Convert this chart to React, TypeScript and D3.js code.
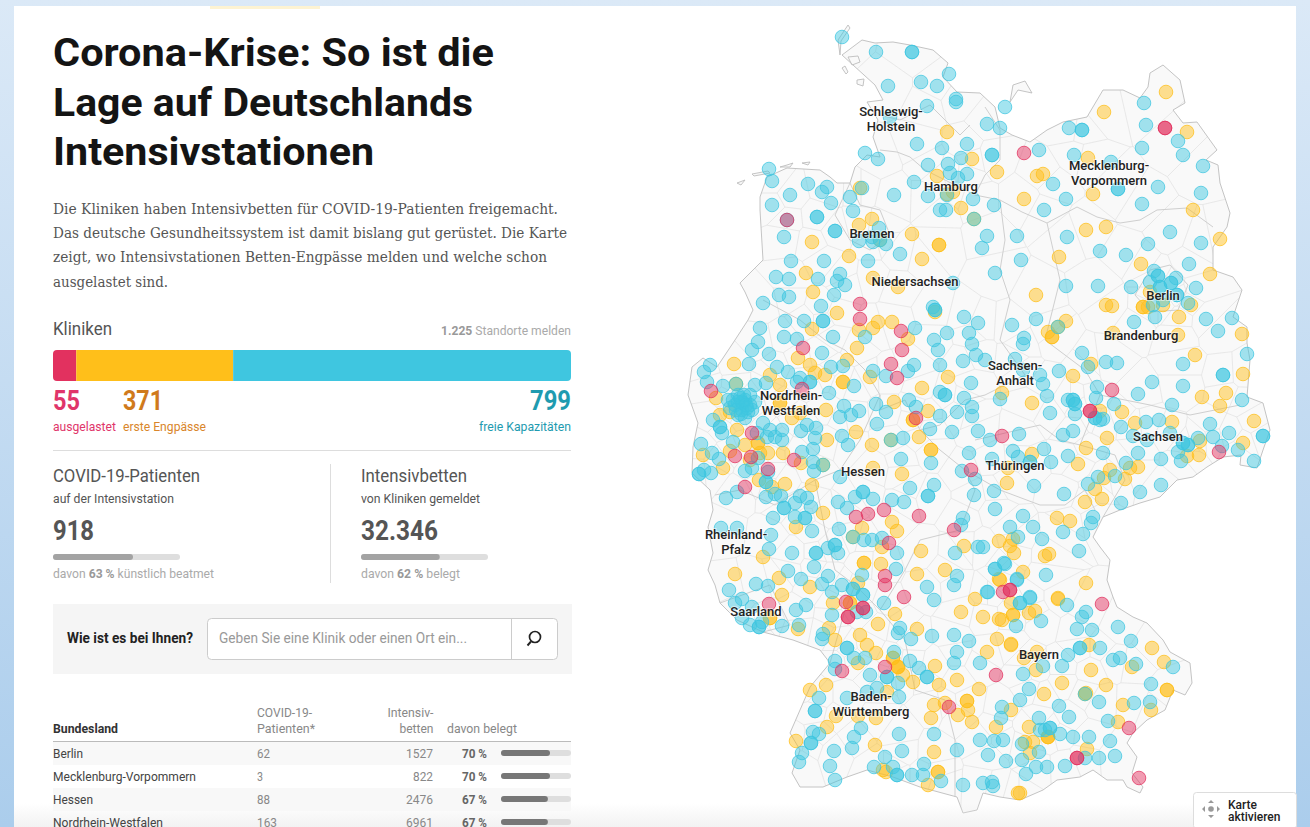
import React, { useEffect, useRef } from "react";
import * as d3 from "d3";

type Pt = [number, number];

// clinic status totals
const statusNames = ["ausgelastet", "erste Engpässe", "freie Kapazitäten"];
const statusCounts = [55, 371, 799];
const reportingTotal = 1225;

// table
const stateNames = ["Berlin", "Mecklenburg-Vorpommern", "Hessen", "Nordrhein-Westfalen"];
const statePatients = [62, 3, 88, 163];
const stateBeds = [1527, 822, 2476, 6961];
const stateOccupied = [70, 70, 67, 67];

// map labels
const mapLabels: [string[], number, number][] = [
  [["Schleswig-", "Holstein"], 891, 116],
  [["Hamburg"], 951, 191],
  [["Mecklenburg-", "Vorpommern"], 1109, 170],
  [["Bremen"], 872, 238],
  [["Niedersachsen"], 915, 286],
  [["Berlin"], 1163, 300],
  [["Brandenburg"], 1141, 340],
  [["Sachsen-", "Anhalt"], 1015, 370],
  [["Nordrhein-", "Westfalen"], 791, 400],
  [["Sachsen"], 1158, 441],
  [["Thüringen"], 1015, 470],
  [["Hessen"], 863, 476],
  [["Rheinland-", "Pfalz"], 736, 539],
  [["Saarland"], 756, 616],
  [["Bayern"], 1039, 659],
  [["Baden-", "Württemberg"], 871, 701],
];

// in map grid units
const germanyOutline: Pt[] = [
  [842,55],[862,40],[875,43],[893,42],[910,45],[933,50],[948,63],[943,77],[957,92],[980,93],[995,107],[1000,128],[1012,135],[1030,142],
  [1047,130],[1063,122],[1087,117],[1103,90],[1123,90],[1140,98],[1148,87],[1150,73],[1163,65],[1180,80],[1185,103],[1173,110],[1183,123],[1197,122],[1217,150],[1206,160],[1218,165],
  [1220,183],[1230,213],[1227,227],[1213,247],[1213,270],[1233,277],[1242,290],[1233,317],[1247,327],[1247,343],[1250,360],[1247,397],[1263,403],[1270,430],
  [1263,450],[1257,468],[1240,465],[1241,455],[1223,457],[1207,467],[1193,477],[1177,480],[1160,497],[1140,503],[1120,510],[1103,517],[1093,537],[1100,547],[1110,560],[1107,580],
  [1113,597],[1117,607],[1133,617],[1147,623],[1163,640],[1170,652],[1190,663],[1192,683],[1185,695],[1173,690],[1165,710],[1147,720],[1133,733],[1127,743],[1137,757],[1132,773],
  [1143,787],[1140,793],[1127,787],[1123,780],[1107,780],[1093,770],[1080,777],[1057,780],[1043,790],[1020,800],[1000,797],[983,793],[977,810],[963,813],[957,797],[920,787],
  [893,777],[867,770],[847,777],[823,787],[800,787],[792,773],[800,750],[790,733],[800,710],[810,687],[830,663],[820,650],[793,640],[763,632],[737,620],[720,603],
  [715,585],[708,570],[713,553],[708,527],[713,510],[710,490],[692,473],[693,447],[698,423],[688,395],[692,367],[703,358],[717,367],[735,340],[748,320],[753,310],[745,292],
  [740,283],[763,260],[760,210],[760,197],[767,177],[787,168],[820,170],[830,177],[837,183],[850,183],[855,167],[867,155],[880,157],[873,137],[878,120],[867,102],[883,100],[875,85],
];
const islands: Pt[][] = [
  [[848,25],[838,40],[840,55],[841,41],[850,28]],
  [[848,57],[858,56],[860,62],[852,65]],
  [[845,66],[848,72],[846,74],[842,68]],
  [[857,80],[864,79],[863,86],[857,84]],
  [[1013,85],[1025,81],[1032,93],[1018,90],[1010,102]],
  [[737,183],[745,180],[741,185]],
  [[752,174],[768,171],[770,173],[754,176]],
  [[780,167],[787,165],[793,163],[790,167]],
  [[802,163],[810,162],[808,165]],
];
const regionBorders: Pt[][] = [
  [[880,150],[897,152],[910,157],[925,170],[955,185],[975,195],[1000,200],[1022,212],[1047,223],[1077,207],[1097,217],[1120,223],[1140,220],[1157,210],[1187,208],[1213,227]],
  [[985,107],[1000,130],[1000,160],[985,175],[975,195]],
  [[880,115],[900,120],[930,105],[945,120],[960,135],[970,125]],
  [[1000,200],[1005,240],[1000,270],[1010,300],[1000,340],[1025,375],[985,395],[965,400],[940,425],[920,430],[905,400],[880,410],[880,395]],
  [[763,300],[800,320],[825,340],[845,350],[865,370],[880,395],[860,440],[840,470],[815,480],[775,505],[740,490],[715,495]],
  [[815,480],[825,530],[835,570],[855,585],[880,610],[905,570],[920,540],[960,530],[975,490],[965,470],[940,450],[920,430]],
  [[965,470],[1000,490],[1040,505],[1065,505],[1085,490],[1095,510]],
  [[975,440],[1040,425],[1060,440],[1080,445],[1115,455],[1125,480],[1103,517]],
  [[1047,223],[1060,280],[1045,340],[1085,370],[1100,395],[1080,445]],
  [[1100,395],[1150,405],[1190,415],[1240,405]],
  [[880,610],[905,640],[915,690],[945,700],[955,740],[955,797]],
  [[830,663],[845,610],[855,585]],
  [[720,603],[770,585],[790,625],[763,632]],
  [[1150,270],[1170,265],[1188,285],[1178,310],[1150,312],[1135,295],[1150,270]],
  [[850,183],[860,205],[880,210],[890,235],[870,250],[850,240],[835,215],[850,183]],
];

const freeClinics: Pt[] = [
  [842,37],[876,52],[912,52],[912,52],[888,86],[921,82],[937,86],[949,74],[927,106],[956,102],[956,99],[890,117],[987,124],[1000,128],[917,144],[942,148],[967,144],[961,158],[992,155],[992,155],[928,165],
  [865,153],[878,159],[769,169],[772,181],[808,184],[827,187],[822,192],[790,195],[831,203],[772,205],[850,197],[862,188],[853,211],[894,195],[914,182],[928,196],[948,164],[950,173],[958,178],[967,174],[947,195],
  [940,210],[946,210],[973,199],[994,205],[817,217],[817,217],[835,231],[835,231],[784,237],[859,241],[873,242],[886,244],[879,228],[872,237],[900,254],[868,261],[824,261],[791,261],[987,236],[982,248],[995,273],
  [776,277],[789,279],[818,279],[840,274],[837,281],[845,285],[953,283],[787,220],[974,219],[880,240],
  [1005,107],[1069,128],[1082,130],[1082,130],[1039,150],[1144,103],[1146,125],[1178,141],[1183,155],[1203,166],[1142,148],[1074,155],[1111,162],[1053,184],[1066,199],[1044,210],[1118,189],[1118,189],[1158,187],[1142,204],
  [1201,193],[1170,232],[1017,236],[1067,237],[1148,244],[1201,243],[1100,251],[1126,255],[1021,260],[1189,264],[1066,286],[1098,286],[1131,287],[1196,288],[1154,271],[1158,276],[1158,276],[1150,282],[1176,278],[1171,283],[1171,283],
  [1160,287],[1160,287],[1177,295],[1177,295],[1188,303],[1163,300],[1153,305],[1155,317],[1134,322],[1036,319],[1012,325],[1058,327],[1206,319],[1232,318],[1218,331],[1024,338],
  [763,303],[779,295],[789,297],[834,295],[821,306],[785,321],[804,321],[823,321],[823,321],[760,328],[758,342],[752,350],[784,337],[797,339],[833,337],[769,354],[822,353],[749,364],[777,367],[788,372],[831,367],[843,366],
  [704,372],[710,365],[707,382],[723,386],[736,384],[810,382],[810,382],[829,393],[854,386],[873,371],[886,376],[908,371],[914,365],[940,365],[963,361],[947,333],[934,340],[938,350],[964,317],[915,328],[969,333],[972,344],[976,355],
  [933,307],[935,310],[935,310],[978,323],[865,337],[971,383],[945,395],[945,395],[940,392],[964,398],[909,400],[957,412],[972,407],[972,416],[940,416],[916,407],[876,404],[886,412],[859,411],[851,415],[844,406],[840,417],[877,424],
  [930,429],[952,432],[978,431],[903,438],[891,440],[842,436],[848,445],[969,453],[901,459],[931,463],[962,471],[975,479],[910,488],[934,485],[928,496],[928,496],[974,495],[863,492],[863,492],[873,499],[855,497],[892,500],[904,502],
  [838,502],[847,508],[840,477],
  [738,395],[745,400],[750,395],[735,405],[742,410],[750,405],[738,415],[745,418],[733,400],[755,402],[748,412],[743,403],[740,398],[742,402],[747,408],[736,410],[752,410],[744,395],[730,408],[741,414],[746,405],[738,402],
  [713,420],[720,427],[720,427],[722,433],[728,400],[755,385],[766,383],[797,382],[800,378],
  [733,442],[701,444],[712,453],[719,459],[699,474],[699,474],[704,470],[711,473],[745,471],[752,468],[758,458],[763,423],[757,433],[770,430],[782,430],[775,437],[782,440],[767,437],[801,431],[807,425],[816,428],[815,438],
  [813,449],[802,452],[813,462],[814,471],[823,465],[766,482],[766,482],[768,472],[726,498],[737,492],[766,497],[775,494],[781,496],[784,508],[784,508],[795,503],[800,496],[807,498],[811,507],[795,517],[805,518],[805,518],[773,518],
  [812,531],[839,529],[721,528],[737,528],[771,535],[769,549],[792,553],[816,553],[816,553],[835,545],[835,545],[838,553],[828,548],[897,553],[864,540],[872,540],[963,518],[961,525],[955,553],[978,547],[853,537],[882,538],
  [1023,344],[1082,353],[1106,362],[1117,363],[1183,364],[1247,354],[1015,359],[985,360],[1023,370],[1059,371],[1088,367],[1040,375],[1043,384],[1152,382],[1183,386],[1223,375],[1223,375],[1097,387],[1138,394],[1047,396],[1096,398],
  [1000,399],[1068,400],[1073,400],[1073,400],[1075,404],[1075,404],[1114,404],[1242,400],[1172,405],[1050,413],[1075,414],[1095,418],[1095,418],[1100,420],[1103,419],[1146,422],[1159,420],[1210,424],[1121,427],[1229,433],
  [990,440],[1019,434],[1063,435],[1073,431],[1133,436],[1170,433],[1263,436],[1263,436],[1147,440],[1213,437],[1183,443],[1183,443],[1188,445],[1188,445],[1178,452],[1198,438],[1222,446],[1238,450],[1013,451],[1018,457],[1044,449],
  [992,459],[1030,462],[1030,462],[1051,462],[1068,456],[1103,453],[1138,453],[1161,459],[1181,461],[1254,461],[1126,463],[1098,477],[1115,476],[1088,484],[994,491],[1034,486],[1064,494],[1140,492],[1161,485],[1121,503],
  [995,509],[1023,516],[1093,517],[1091,523],[1010,527],[1033,527],[1063,532],[1083,534],[1018,537],[1042,539],[983,547],[1079,551],[1004,563],[995,569],[1046,575],[1017,579],[987,592],[1030,597],
  [729,590],[742,599],[735,603],[752,607],[756,584],[768,586],[788,571],[801,579],[814,567],[822,584],[828,576],[832,592],[842,585],[853,589],[853,589],[862,575],[863,595],[863,595],[866,612],[857,612],[884,603],[896,569],[927,587],[934,600],
  [954,585],[957,576],[988,592],[995,569],[1005,564],[1017,580],[796,610],[806,605],[832,615],[742,618],[750,625],[759,627],[759,627],[782,626],[762,622],[799,625],[823,634],[822,639],[847,648],[847,648],[835,661],[835,669],[854,658],[865,658],
  [900,628],[898,633],[911,639],[932,636],[954,635],[969,641],[957,652],[954,663],[980,663],[894,652],[910,661],[919,668],[927,677],[927,677],[870,675],[887,677],[887,677],[898,683],[877,688],[867,692],[847,698],[899,697],[819,698],
  [815,711],[815,711],[813,732],[819,734],[811,743],[811,743],[861,728],[854,737],[852,748],[899,734],[934,734],[980,740],[994,741],[1003,740],[1001,718],[1002,707],[957,750],[988,755],[1006,761],[834,751],[802,753],[799,762],[830,766],
  [902,751],[885,757],[874,767],[924,764],[923,775],[912,775],[897,775],[897,775],[893,767],[835,780],[941,781],[963,785],[983,783],[992,782],[993,786],
  [1067,605],[1041,621],[1016,626],[1086,612],[1082,617],[1077,629],[1092,630],[1118,627],[1131,641],[1080,648],[1080,648],[1100,648],[1068,655],[1062,666],[1043,666],[1113,660],[1120,658],[1136,664],[1173,667],[1023,674],[1151,684],
  [1029,689],[1020,700],[1099,702],[1059,706],[1134,703],[1150,702],[1069,717],[1108,721],[1039,718],[1085,694],[1040,730],[1050,728],[1050,728],[1045,730],[1060,734],[1073,737],[1089,737],[1110,741],[1022,744],[1039,752],
  [1115,756],[1099,758],[1085,758],[1022,760],[1036,767],[1047,767],[1065,766],[1026,774],[1020,603],[1020,603],[1030,598],
];

const tightClinics: Pt[] = [
  [947,132],[972,159],[997,172],[937,176],[961,208],[953,192],[947,194],[860,188],[872,219],[859,225],[912,234],[812,242],[849,256],[922,259],[806,273],[873,278],[813,292],[898,287],[974,219],[939,245],[939,245],[880,240],
  [1166,92],[1104,112],[1187,132],[1088,158],[1037,176],[1043,174],[1093,194],[1024,199],[1193,210],[1086,230],[1106,227],[1220,239],[1059,257],[1141,264],[1210,274],[1036,295],[1106,305],[1112,306],[1143,307],[1143,307],[1148,307],[1150,292],
  [1191,305],[1179,317],[1066,321],[1048,332],[1052,337],[1052,337],[1113,333],[1178,335],[1242,334],[1163,305],[1058,327],
  [837,313],[812,329],[798,358],[810,365],[734,364],[716,398],[770,375],[780,385],[780,403],[780,403],[792,418],[800,413],[826,410],[815,373],[825,375],[847,360],[843,382],[843,382],[870,377],[859,330],[873,328],[878,322],[892,322],[908,339],
  [857,348],[856,432],[827,440],[872,445],[919,437],[894,402],[922,388],[948,377],[928,411],[913,420],[913,420],[720,415],[730,412],[737,430],[745,445],[758,443],[758,443],[750,460],[768,453],[783,453],[760,453],[703,455],[730,451],[723,468],
  [759,480],[772,487],[785,484],[812,485],[902,474],[801,463],[823,513],[796,527],[892,522],[897,531],[921,551],[862,528],[853,537],[882,547],[964,546],[763,557],[873,468],[931,450],[931,450],[935,312],[736,384],[823,465],[891,440],
  [1195,355],[1243,374],[1073,376],[1091,364],[1002,393],[1032,403],[1202,397],[1226,393],[1220,406],[1122,412],[1100,411],[1135,423],[1172,422],[1254,421],[1107,438],[1086,448],[1200,441],[1243,443],[1032,454],[1078,464],[1199,455],[1187,456],
  [1008,468],[1007,483],[1110,470],[1138,467],[1130,468],[1104,478],[1125,479],[1095,489],[1102,499],[1085,502],[1057,518],[1070,521],[999,541],[1013,539],[1010,546],[1014,553],[1045,556],[1049,554],[1023,572],[999,579],[1086,583],[1058,598],
  [735,574],[779,578],[782,595],[810,587],[858,583],[864,563],[864,563],[881,564],[917,574],[945,570],[975,599],[961,612],[1000,580],[983,617],[999,619],[1013,615],[1011,603],[770,618],[770,618],[833,603],[850,603],[850,603],[895,614],[878,624],
  [917,629],[798,629],[829,628],[835,640],[860,635],[867,645],[876,653],[858,663],[893,658],[893,658],[898,667],[898,667],[898,667],[903,675],[913,682],[935,666],[939,685],[957,680],[979,689],[987,652],[997,639],[1011,645],[826,685],[810,690],
  [887,692],[836,716],[858,716],[876,718],[827,727],[796,741],[875,745],[934,705],[931,718],[945,703],[967,701],[967,701],[968,710],[958,715],[972,722],[996,727],[1011,710],[934,752],[883,770],[886,772],[938,772],[938,772],[928,785],[1018,793],
  [1058,599],[1013,615],[1029,613],[1035,611],[1011,644],[1024,658],[1037,652],[1036,670],[1089,645],[1091,670],[1132,667],[1152,648],[1164,662],[1062,683],[1106,685],[1167,690],[1167,690],[1044,694],[1086,693],[1085,694],[1123,705],[1151,710],
  [1118,722],[1029,727],[1025,742],[1033,742],[1048,737],[1048,737],[1048,737],[1030,753],[1087,749],[1020,793],[1002,620],
];

const fullClinics: Pt[] = [
  [787,220],[1024,153],[1165,128],[1165,128],
  [860,304],[860,319],[901,331],[902,350],[891,364],[897,378],[803,348],[711,391],[802,389],[916,418],[752,433],[735,456],[751,457],[794,460],[768,469],[745,487],[856,517],[868,514],[884,510],[919,516],[954,530],[971,470],[889,543],
  [1112,390],[1090,411],[1090,411],[1002,436],[1219,452],[1003,592],[1010,590],[1010,590],
  [769,604],[885,576],[885,585],[904,597],[846,602],[863,608],[863,608],[848,617],[848,617],[842,671],[885,667],[996,675],[949,707],
  [1102,604],[1129,728],[1077,758],[1077,758],[1139,778],
];

const RED = "#e2315f";
const YELLOW = "#ffbf1a";
const BLUE = "#3fc6e0";
const SANS = "Roboto, sans-serif";

// Roboto squeezed to the measured width, Roboto Condensed is not installed
function Txt({ x, y, w, size = 13, weight = 400, fill = "#555", anchor = "start", children }: any) {
  return (
    <text x={x} y={y} fontFamily={SANS} fontSize={size} fontWeight={weight} fill={fill} textAnchor={anchor}
      textLength={w} lengthAdjust={w ? "spacingAndGlyphs" : undefined}>
      {children}
    </text>
  );
}

function GermanyMap() {
  const ref = useRef<SVGGElement>(null);

  useEffect(() => {
    const g = d3.select(ref.current);
    g.selectAll("*").remove();

    const x = d3.scaleLinear().domain([680, 1280]).range([680, 1280]);
    const y = d3.scaleLinear().domain([20, 820]).range([20, 820]);
    const line = d3.line<Pt>().x((d) => x(d[0])).y((d) => y(d[1]));
    const outline = line(germanyOutline) + "Z";

    g.append("clipPath").attr("id", "de").append("path").attr("d", outline);
    g.append("path").attr("d", outline).attr("fill", "#f9f9f9");

    // district mesh
    const sites = freeClinics.concat(tightClinics).filter((_, i) => i % 2 === 0).map((d) => [x(d[0]), y(d[1])] as Pt);
    const voronoi = d3.Delaunay.from(sites).voronoi([680, 20, 1280, 820]);
    g.append("path").attr("clip-path", "url(#de)").attr("d", voronoi.render())
      .attr("fill", "none").attr("stroke", "#e3e3e3").attr("stroke-width", 0.8);

    g.selectAll(".border").data(regionBorders).join("path").attr("d", (d) => line(d))
      .attr("fill", "none").attr("stroke", "#cfcfcf").attr("stroke-width", 1);
    g.selectAll(".island").data(islands).join("path").attr("d", (d) => line(d) + "Z")
      .attr("fill", "#f9f9f9").attr("stroke", "#bdbdbd").attr("stroke-width", 0.9);
    g.append("path").attr("d", outline).attr("fill", "none").attr("stroke", "#c4c4c4").attr("stroke-width", 1);

    const groups: [Pt[], string][] = [[tightClinics, YELLOW], [freeClinics, BLUE], [fullClinics, RED]];
    groups.forEach(([pts, color]) => {
      g.append("g").selectAll("circle").data(pts).join("circle")
        .attr("cx", (d) => x(d[0])).attr("cy", (d) => y(d[1])).attr("r", 6.8)
        .attr("fill", color).attr("fill-opacity", 0.48)
        .attr("stroke", color).attr("stroke-opacity", 0.75).attr("stroke-width", 1);
    });

    const labels = g.append("g").attr("font-family", SANS).attr("font-size", 13).attr("font-weight", 500)
      .attr("text-anchor", "middle").attr("fill", "#222");
    mapLabels.forEach(([lines, lx, ly]) => {
      lines.forEach((t, i) => {
        labels.append("text").attr("x", lx).attr("y", ly + i * 14.5).text(t)
          .attr("stroke", "#fff").attr("stroke-opacity", 0.55).attr("stroke-width", 2).attr("paint-order", "stroke");
      });
    });
  }, []);

  return <g ref={ref} />;
}

export default function App() {
  useEffect(() => {
    document.body.style.margin = "0";
  }, []);

  const barX = d3.scaleLinear().domain([0, reportingTotal]).range([53, 571]);
  const stackEnds = d3.cumsum(statusCounts);
  const colors = [RED, YELLOW, BLUE];
  const miniBar = d3.scaleLinear().domain([0, 100]).range([0, 127]);
  const rowBar = d3.scaleLinear().domain([0, 100]).range([0, 70]);
  const rowY = d3.scalePoint<number>().domain(d3.range(4)).range([753, 822]);

  return (
    <svg width={1310} height={827} style={{ position: "absolute", left: 0, top: 0, display: "block" }}>
      <defs>
        <linearGradient id="bg" x1="0" y1="0" x2="0" y2="1">
          <stop offset="0" stopColor="#dbe9f7" />
          <stop offset="1" stopColor="#abcdec" />
        </linearGradient>
        <linearGradient id="fade" x1="0" y1="0" x2="0" y2="1">
          <stop offset="0" stopColor="#eaeaea" stopOpacity="0" />
          <stop offset="1" stopColor="#eaeaea" stopOpacity="0.6" />
        </linearGradient>
        <clipPath id="stack"><rect x={53} y={350} width={518} height={31} rx={4} /></clipPath>
      </defs>
      <rect width={1310} height={827} fill="url(#bg)" />
      <rect x={14} y={6} width={1282} height={821} fill="#fff" />
      <rect x={210} y={6} width={110} height={3} fill="#fdf3d2" />

      <g fontFamily={SANS} fontWeight={700} fontSize={39} fill="#141414">
        <text x={53} y={66} textLength={441} lengthAdjust="spacingAndGlyphs">Corona-Krise: So ist die</text>
        <text x={53} y={116} textLength={420} lengthAdjust="spacingAndGlyphs">Lage auf Deutschlands</text>
        <text x={53} y={165} textLength={321} lengthAdjust="spacingAndGlyphs">Intensivstationen</text>
      </g>

      <g fontFamily="'DejaVu Serif', serif" fontSize={15} fill="#555">
        <text x={53} y={214} textLength={505} lengthAdjust="spacingAndGlyphs">Die Kliniken haben Intensivbetten für COVID-19-Patienten freigemacht.</text>
        <text x={53} y={238} textLength={514} lengthAdjust="spacingAndGlyphs">Das deutsche Gesundheitssystem ist damit bislang gut gerüstet. Die Karte</text>
        <text x={53} y={262} textLength={494} lengthAdjust="spacingAndGlyphs">zeigt, wo Intensivstationen Betten-Engpässe melden und welche schon</text>
        <text x={53} y={287} textLength={115} lengthAdjust="spacingAndGlyphs">ausgelastet sind.</text>
      </g>

      <Txt x={53} y={335} w={59} size={18}>Kliniken</Txt>
      <Txt x={571} y={335} w={130} size={13} fill="#aaa" anchor="end">
        <tspan fontWeight={700} fill="#999">1.225</tspan> Standorte melden
      </Txt>

      <g clipPath="url(#stack)">
        {statusCounts.map((c, i) => (
          <rect key={statusNames[i]} x={barX(stackEnds[i] - c)} y={350} width={barX(stackEnds[i]) - barX(stackEnds[i] - c)} height={31} fill={colors[i]} />
        ))}
      </g>

      <Txt x={53} y={410} w={27} size={28} weight={700} fill="#e0356a">{statusCounts[0]}</Txt>
      <Txt x={123} y={410} w={40} size={28} weight={700} fill="#d07a1c">{statusCounts[1]}</Txt>
      <Txt x={571} y={410} w={41} size={28} weight={700} fill="#1f9bb0" anchor="end">{statusCounts[2]}</Txt>
      <Txt x={53} y={431} w={63} fill="#e0356a">{statusNames[0]}</Txt>
      <Txt x={123} y={431} w={83} fill="#d9862b">{statusNames[1]}</Txt>
      <Txt x={571} y={431} w={92} fill="#1f9bb0" anchor="end">{statusNames[2]}</Txt>
      <line x1={53} x2={571} y1={450.5} y2={450.5} stroke="#ddd" />

      <Txt x={53} y={482} w={147} size={18}>COVID-19-Patienten</Txt>
      <Txt x={53} y={503} w={121}>auf der Intensivstation</Txt>
      <Txt x={53} y={540} w={41} size={28} weight={700}>918</Txt>
      <rect x={53} y={554} width={127} height={6} rx={3} fill="#dedede" />
      <rect x={53} y={554} width={miniBar(63)} height={6} rx={3} fill="#a3a3a3" />
      <Txt x={53} y={578} w={161} fill="#aaa">davon <tspan fontWeight={700} fill="#999">63 %</tspan> künstlich beatmet</Txt>

      <line x1={330.5} x2={330.5} y1={464} y2={583} stroke="#ddd" />

      <Txt x={361} y={482} w={106} size={18}>Intensivbetten</Txt>
      <Txt x={361} y={503} w={119}>von Kliniken gemeldet</Txt>
      <Txt x={361} y={540} w={77} size={28} weight={700}>32.346</Txt>
      <rect x={361} y={554} width={127} height={6} rx={3} fill="#dedede" />
      <rect x={361} y={554} width={miniBar(62)} height={6} rx={3} fill="#a3a3a3" />
      <Txt x={361} y={578} w={99} fill="#aaa">davon <tspan fontWeight={700} fill="#999">62 %</tspan> belegt</Txt>

      <rect x={53} y={604} width={519} height={70} fill="#f5f5f5" />
      <Txt x={67} y={643} w={126} size={14} weight={700} fill="#222">Wie ist es bei Ihnen?</Txt>
      <rect x={207.5} y={618.5} width={350} height={41} rx={4} fill="#fff" stroke="#ccc" />
      <line x1={511.5} x2={511.5} y1={619} y2={659} stroke="#ccc" />
      <Txt x={219} y={643} w={248} size={14} fill="#999">Geben Sie eine Klinik oder einen Ort ein...</Txt>
      <circle cx={535} cy={637} r={5.5} fill="none" stroke="#222" strokeWidth={1.7} />
      <line x1={531} y1={641.5} x2={527.5} y2={645.5} stroke="#222" strokeWidth={1.9} />

      <rect x={14} y={803} width={586} height={24} fill="url(#fade)" />

      <Txt x={53} y={733} w={65} weight={700} fill="#333">Bundesland</Txt>
      <Txt x={257} y={717} w={55} fill="#888">COVID-19-</Txt>
      <Txt x={257} y={733} w={58} fill="#888">Patienten*</Txt>
      <Txt x={433.5} y={717} w={46} fill="#888" anchor="end">Intensiv-</Txt>
      <Txt x={433.5} y={733} w={34} fill="#888" anchor="end">betten</Txt>
      <Txt x={447} y={733} w={70} fill="#888">davon belegt</Txt>
      <line x1={53} x2={571} y1={741.5} y2={741.5} stroke="#bbb" />

      {stateNames.map((name, i) => {
        const cy = rowY(i) as number;
        const widths = [30, 143, 40, 110];
        return (
          <g key={name}>
            {i % 2 === 0 && i < 3 && <rect x={53} y={cy - 11} width={518} height={23} fill="#f8f8f8" />}
            <Txt x={53} y={cy + 5} w={widths[i]} fill="#444">{name}</Txt>
            <Txt x={257} y={cy + 5} w={[13, 6, 13, 20][i]} fill="#888">{statePatients[i]}</Txt>
            <Txt x={433} y={cy + 5} w={[27, 20, 27, 27][i]} fill="#888" anchor="end">{stateBeds[i]}</Txt>
            <Txt x={487} y={cy + 5} w={25} weight={700} fill="#666" anchor="end">{stateOccupied[i]} %</Txt>
            <rect x={501} y={cy - 3} width={70} height={6} rx={3} fill="#dedede" />
            <rect x={501} y={cy - 3} width={rowBar(stateOccupied[i])} height={6} rx={3} fill="#777" />
          </g>
        );
      })}

      <GermanyMap />

      <rect x={600} y={803} width={696} height={24} fill="url(#fade)" />

      <rect x={1193.5} y={792.5} width={103} height={36} rx={3} fill="#fff" stroke="#ddd" />
      <g fill="#999">
        <circle cx={1211} cy={809} r={2.8} />
        <path d="M1211 800l-3 3h6zM1211 818l-3-3h6zM1202 809l3-3v6zM1220 809l-3-3v6z" />
      </g>
      <g fontFamily={SANS} fontWeight={500} fontSize={12} fill="#222">
        <text x={1228} y={808.5}>Karte</text>
        <text x={1228} y={821}>aktivieren</text>
      </g>
    </svg>
  );
}
